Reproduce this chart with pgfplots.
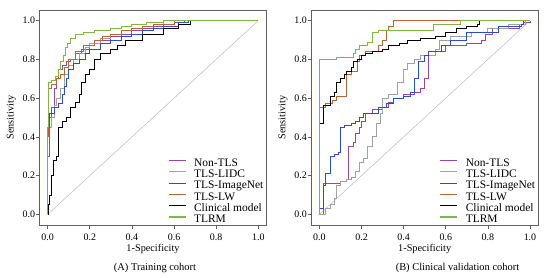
\documentclass[border=0pt]{standalone}
\usepackage{fontspec}
\setmainfont{Liberation Serif}
\usepackage{pgfplots}
\pgfplotsset{compat=1.18}

\definecolor{cpurple}{RGB}{150,70,165}
\definecolor{cgray}{RGB}{165,160,160}
\definecolor{cblue}{RGB}{45,75,210}
\definecolor{corange}{RGB}{190,100,50}
\definecolor{cgreen}{RGB}{130,180,70}
\definecolor{cdiag}{RGB}{195,195,195}
\definecolor{boxgray}{RGB}{95,95,95}

\pgfplotsset{
  roc/.style={
    scale only axis, width=227.4bp, height=215bp,
    xmin=-0.04, xmax=1.04, ymin=-0.055, ymax=1.055,
    axis line style={draw=boxgray, line width=0.8bp},
    xtick={0,0.2,0.4,0.6,0.8,1}, ytick={0,0.2,0.4,0.6,0.8,1},
    tick align=outside, tick pos=left, major tick length=3.5bp,
    tick style={boxgray, line width=0.7bp},
    /pgf/number format/.cd, fixed, fixed zerofill, precision=1, assume math mode=true,
    /pgfplots/.cd,
    every tick label/.append style={font=\fontsize{10}{12}\selectfont, inner sep=0.5bp},
    xticklabel style={yshift=-5bp},
    xlabel={1-Specificity}, ylabel={Sensitivity},
    label style={font=\fontsize{10.3}{12}\selectfont},
    xlabel style={at={(axis description cs:0.5,0)}, anchor=base, yshift=-26.5bp},
    ylabel style={at={(axis description cs:-0.123,0.5)}, anchor=center},
    legend cell align=left,
    legend style={draw=none, fill=none, inner sep=0pt, outer sep=0pt,
      at={(axis description cs:0.566,0.31)}, anchor=north west,
      font=\fontsize{11.5}{11.3}\selectfont,
      nodes={inner sep=0pt, text height=8bp, text depth=3.3bp}},
  },
  rocline/.style={const plot, line width=0.9bp},
}
\pgfplotsset{legend image code/.code={\draw[#1, line width=1.2bp] (0bp,3.5bp) -- (17bp,3.5bp); \path (25bp,3.5bp);}}

\begin{document}
\begin{tikzpicture}
\begin{axis}[roc, at={(39.3bp,-225bp)}, anchor=south west]
  \addplot[cdiag, line width=0.6bp, forget plot] coordinates {(0,0) (1,1)};
  \addplot[rocline, color=cpurple] coordinates {(0,0) (0,0.3) (0.01,0.5) (0.02,0.55) (0.03,0.65) (0.04,0.7) (0.05,0.75) (0.07,0.77) (0.09,0.79) (0.11,0.8) (0.13,0.83) (0.16,0.85) (0.2,0.88) (0.25,0.9) (0.3,0.92) (0.35,0.93) (0.4,0.95) (0.45,0.96) (0.5,0.97) (0.55,0.98) (0.6,0.99) (0.65,1) (1,1)};
  \addlegendentry{Non-TLS}
  \addplot[rocline, color=cgray] coordinates {(0,0) (0,0.45) (0.02,0.5) (0.03,0.56) (0.04,0.6) (0.06,0.65) (0.08,0.72) (0.1,0.77) (0.12,0.8) (0.15,0.83) (0.18,0.86) (0.2,0.88) (0.25,0.91) (0.3,0.93) (0.35,0.95) (0.4,0.96) (0.45,0.97) (0.5,0.98) (0.55,1) (1,1)};
  \addlegendentry{TLS-LIDC}
  \addplot[rocline, color=cblue] coordinates {(0,0) (0,0.45) (0.01,0.52) (0.03,0.55) (0.05,0.57) (0.07,0.62) (0.08,0.66) (0.09,0.7) (0.1,0.75) (0.12,0.78) (0.15,0.8) (0.18,0.83) (0.2,0.85) (0.25,0.88) (0.3,0.9) (0.35,0.92) (0.4,0.93) (0.45,0.95) (0.5,0.96) (0.55,0.97) (0.62,0.99) (0.67,1) (1,1)};
  \addlegendentry{TLS-ImageNet}
  \addplot[rocline, color=corange] coordinates {(0,0) (0,0.4) (0.005,0.65) (0.02,0.67) (0.04,0.7) (0.06,0.72) (0.08,0.76) (0.1,0.8) (0.13,0.84) (0.17,0.87) (0.22,0.9) (0.26,0.92) (0.3,0.93) (0.35,0.95) (0.4,0.96) (0.45,0.97) (0.5,0.98) (0.6,1) (1,1)};
  \addlegendentry{TLS-LW}
  \addplot[rocline, color=black] coordinates {(0,0) (0.005,0.05) (0.01,0.1) (0.02,0.2) (0.025,0.28) (0.04,0.3) (0.05,0.45) (0.07,0.48) (0.09,0.5) (0.11,0.55) (0.13,0.58) (0.15,0.62) (0.16,0.68) (0.18,0.72) (0.2,0.75) (0.22,0.8) (0.25,0.83) (0.3,0.85) (0.33,0.87) (0.37,0.9) (0.45,0.93) (0.55,0.96) (0.62,0.98) (0.68,1) (1,1)};
  \addlegendentry{Clinical model}
  \addplot[rocline, color=cgreen] coordinates {(0,0) (0,0.45) (0.005,0.68) (0.02,0.69) (0.035,0.71) (0.05,0.75) (0.06,0.79) (0.075,0.82) (0.085,0.86) (0.095,0.88) (0.11,0.91) (0.13,0.93) (0.17,0.94) (0.22,0.95) (0.3,0.96) (0.35,0.97) (0.4,0.98) (0.47,0.99) (0.55,1) (1,1)};
  \addlegendentry{TLRM}
\end{axis}
\begin{axis}[roc, at={(311bp,-225bp)}, anchor=south west]
  \addplot[cdiag, line width=0.6bp, forget plot] coordinates {(0,0) (1,1)};
  \addplot[rocline, color=cpurple] coordinates {(0,0) (0.02,0.16) (0.1,0.17) (0.13,0.18) (0.14,0.35) (0.16,0.37) (0.17,0.42) (0.19,0.45) (0.2,0.48) (0.22,0.52) (0.25,0.54) (0.3,0.55) (0.33,0.58) (0.35,0.6) (0.4,0.62) (0.45,0.63) (0.48,0.65) (0.5,0.7) (0.52,0.82) (0.55,0.84) (0.6,0.87) (0.7,0.88) (0.77,0.9) (0.79,0.93) (0.82,0.96) (0.95,0.98) (0.97,0.99) (1,1)};
  \addlegendentry{Non-TLS}
  \addplot[rocline, color=cgray] coordinates {(0,0) (0.03,0.03) (0.05,0.05) (0.07,0.08) (0.08,0.15) (0.1,0.17) (0.13,0.18) (0.15,0.19) (0.17,0.22) (0.19,0.27) (0.21,0.29) (0.23,0.35) (0.25,0.4) (0.27,0.47) (0.29,0.52) (0.3,0.6) (0.33,0.62) (0.37,0.68) (0.4,0.75) (0.42,0.78) (0.45,0.8) (0.48,0.82) (0.55,0.85) (0.57,0.9) (0.62,0.92) (0.72,0.94) (0.8,0.96) (0.9,0.98) (0.98,1) (1,1)};
  \addlegendentry{TLS-LIDC}
  \addplot[rocline, color=cblue] coordinates {(0,0) (0,0.03) (0.02,0.03) (0.02,0.15) (0.03,0.21) (0.05,0.22) (0.05,0.3) (0.07,0.31) (0.09,0.32) (0.1,0.45) (0.12,0.46) (0.15,0.47) (0.17,0.48) (0.19,0.5) (0.21,0.52) (0.25,0.52) (0.28,0.55) (0.32,0.57) (0.35,0.6) (0.4,0.61) (0.43,0.63) (0.45,0.7) (0.47,0.79) (0.5,0.82) (0.52,0.84) (0.58,0.87) (0.62,0.9) (0.7,0.94) (0.85,0.97) (0.96,0.98) (0.97,1) (1,1)};
  \addlegendentry{TLS-ImageNet}
  \addplot[rocline, color=corange] coordinates {(0,0) (0,0.55) (0.03,0.57) (0.06,0.59) (0.08,0.61) (0.13,0.72) (0.15,0.74) (0.18,0.79) (0.19,0.82) (0.22,0.84) (0.27,0.84) (0.28,0.87) (0.3,0.9) (0.32,0.95) (0.33,0.97) (0.35,1) (1,1)};
  \addlegendentry{TLS-LW}
  \addplot[rocline, color=black] coordinates {(0,0) (0,0.47) (0.02,0.49) (0.02,0.56) (0.05,0.57) (0.05,0.61) (0.07,0.63) (0.08,0.68) (0.1,0.7) (0.12,0.72) (0.13,0.74) (0.15,0.76) (0.16,0.79) (0.18,0.8) (0.2,0.82) (0.22,0.83) (0.25,0.84) (0.3,0.85) (0.33,0.87) (0.38,0.88) (0.42,0.9) (0.48,0.91) (0.55,0.92) (0.6,0.94) (0.65,0.96) (0.7,0.97) (0.75,0.98) (0.76,1) (1,1)};
  \addlegendentry{Clinical model}
  \addplot[rocline, color=cgreen] coordinates {(0,0) (0,0.8) (0.08,0.81) (0.16,0.83) (0.17,0.85) (0.19,0.87) (0.23,0.89) (0.25,0.94) (0.28,0.95) (0.54,0.98) (0.67,1) (1,1)};
  \addlegendentry{TLRM}
\end{axis}
\node[anchor=base, font=\fontsize{10.5}{12}\selectfont] at (155bp,-270bp) {(A) Training cohort};
\node[anchor=base, font=\fontsize{10.5}{12}\selectfont] at (457.5bp,-270bp) {(B) Clinical validation cohort};
\pgfresetboundingbox
\path[use as bounding box] (0,0) rectangle (550bp,-278bp);
\end{tikzpicture}
\end{document}
